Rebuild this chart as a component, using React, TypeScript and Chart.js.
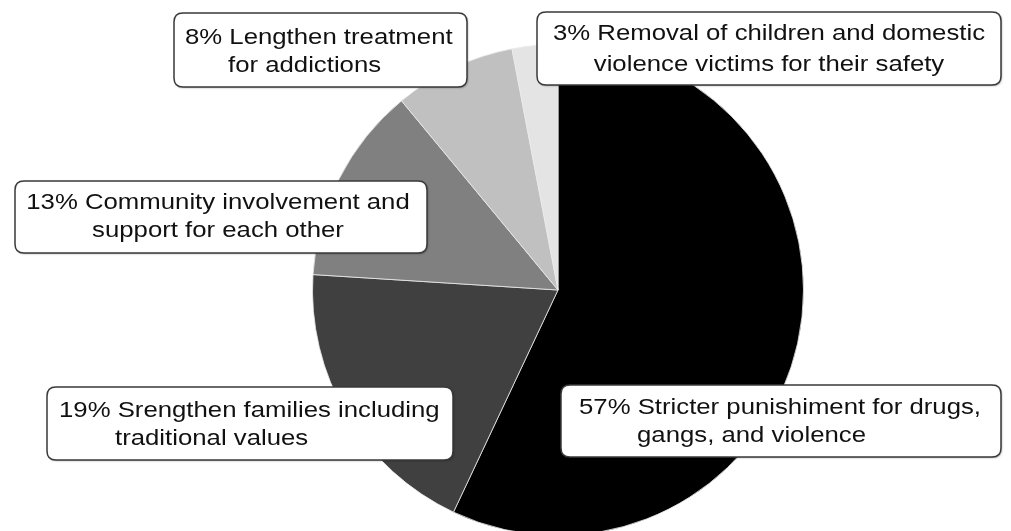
import React, { useEffect, useRef } from "react";
import { Chart, registerables } from "chart.js";

Chart.register(...registerables);

// ---- Data ----
const categories = [
  "Stricter punishiment for drugs, gangs, and violence",
  "Srengthen families including traditional values",
  "Community involvement and support for each other",
  "Lengthen treatment for addictions",
  "Removal of children and domestic violence victims for their safety",
];
const values = [57, 19, 13, 8, 3];
const sliceColors = ["#000000", "#404040", "#808080", "#c0c0c0", "#e4e4e4"];
// label text split into two lines (first line is prefixed with the percentage)
const labelFirstLine = [
  "Stricter punishiment for drugs,",
  "Srengthen families including",
  "Community involvement and",
  "Lengthen treatment",
  "Removal of children and domestic",
];
const labelSecondLine = [
  "gangs, and violence",
  "traditional values",
  "support for each other",
  "for addictions",
  "violence victims for their safety",
];

// ---- Layout of the label boxes (pixels) ----
type Box = {
  x0: number; y0: number; x1: number; y1: number;
  align: "left" | "center";
  l1x: number; l2x: number; b1: number; b2: number;
};
const boxes: Box[] = [
  { x0: 561, y0: 385, x1: 1001, y1: 457, align: "left", l1x: 579, l2x: 637, b1: 414, b2: 442 },
  { x0: 47, y0: 387, x1: 453, y1: 460, align: "left", l1x: 59, l2x: 115, b1: 417, b2: 445 },
  { x0: 15, y0: 181, x1: 427, y1: 253, align: "center", l1x: 218, l2x: 218, b1: 209, b2: 237 },
  { x0: 174, y0: 13, x1: 467, y1: 87, align: "left", l1x: 185, l2x: 228, b1: 44, b2: 72 },
  { x0: 537, y0: 12, x1: 1001, y1: 85, align: "center", l1x: 769, l2x: 769, b1: 40, b2: 71 },
];

const FONT = '22px "Liberation Sans", Arial, sans-serif';
const XSCALE = 1.17;

function roundRect(ctx: CanvasRenderingContext2D, x0: number, y0: number, x1: number, y1: number, r: number) {
  ctx.beginPath();
  ctx.moveTo(x0 + r, y0);
  ctx.lineTo(x1 - r, y0);
  ctx.quadraticCurveTo(x1, y0, x1, y0 + r);
  ctx.lineTo(x1, y1 - r);
  ctx.quadraticCurveTo(x1, y1, x1 - r, y1);
  ctx.lineTo(x0 + r, y1);
  ctx.quadraticCurveTo(x0, y1, x0, y1 - r);
  ctx.lineTo(x0, y0 + r);
  ctx.quadraticCurveTo(x0, y0, x0 + r, y0);
  ctx.closePath();
}

const labelPlugin = {
  id: "boxLabels",
  afterDraw(chart: any) {
    const ctx: CanvasRenderingContext2D = chart.ctx;
    boxes.forEach((b, i) => {
      ctx.save();
      ctx.shadowColor = "rgba(0,0,0,0.35)";
      ctx.shadowBlur = 2;
      ctx.shadowOffsetX = 1;
      ctx.shadowOffsetY = 1;
      roundRect(ctx, b.x0, b.y0, b.x1, b.y1, 9);
      ctx.fillStyle = "#ffffff";
      ctx.fill();
      ctx.shadowColor = "transparent";
      ctx.lineWidth = 1.5;
      ctx.strokeStyle = "#3a3a3a";
      ctx.stroke();
      ctx.restore();

      const lines = [`${values[i]}% ${labelFirstLine[i]}`, labelSecondLine[i]];
      const xs = [b.l1x, b.l2x];
      const ys = [b.b1, b.b2];
      lines.forEach((t, k) => {
        ctx.save();
        ctx.font = FONT;
        ctx.fillStyle = "#111111";
        ctx.textBaseline = "alphabetic";
        ctx.textAlign = b.align;
        ctx.translate(xs[k], ys[k]);
        ctx.scale(XSCALE, 1);
        ctx.fillText(t, 0, 0);
        ctx.restore();
      });
    });
  },
};

export default function App() {
  const ref = useRef<HTMLCanvasElement>(null);
  useEffect(() => {
    document.documentElement.style.overflow = "hidden";
    document.body.style.overflow = "hidden";
    document.body.style.margin = "0";
    const chart = new Chart(ref.current!, {
      type: "pie",
      data: {
        labels: categories,
        datasets: [
          {
            data: values,
            backgroundColor: sliceColors,
            borderColor: "rgba(235,235,235,0.8)",
            borderWidth: 1,
          },
        ],
      },
      options: {
        animation: false,
        responsive: false,
        maintainAspectRatio: false,
        layout: { padding: { left: 312, right: 207, top: 44, bottom: 14 } },
        plugins: {
          legend: { display: false },
          tooltip: { enabled: false },
        },
      },
      plugins: [labelPlugin],
    });
    return () => chart.destroy();
  }, []);
  return (
    <div style={{ position: "fixed", left: 0, top: 0, width: 1011, height: 550, background: "#fff" }}>
      <canvas ref={ref} width={1011} height={550} style={{ width: 1011, height: 550, display: "block" }} />
    </div>
  );
}
